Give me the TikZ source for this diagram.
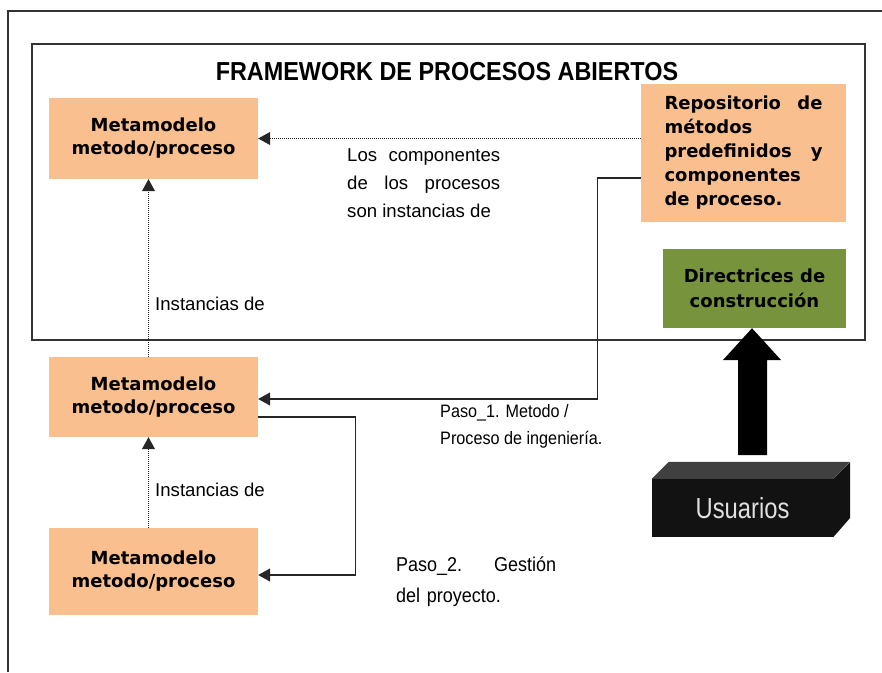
\documentclass[tikz,border=0pt]{standalone}
\usepackage{fontspec}
\setmainfont{Liberation Sans}
\newfontfamily\boxfont{DejaVu Sans}
\newfontfamily\narrowfont[FakeStretch=0.9]{Liberation Sans}
\newfontfamily\usrfont[FakeStretch=0.82]{Liberation Sans}
\newfontfamily\titlefont[FakeStretch=0.9]{Liberation Sans}
\usetikzlibrary{arrows.meta,calc}
\definecolor{orangec}{HTML}{F9BF8F}
\definecolor{greenc}{HTML}{77933C}
\definecolor{framec}{HTML}{333333}
\begin{document}
\begin{tikzpicture}[x=1pt,y=-1pt,
  orangebox/.style={fill=orangec, inner sep=0pt, align=center,
    font=\boxfont\bfseries\fontsize{18}{23}\selectfont},
  greenbox/.style={fill=greenc, inner sep=0pt, align=center,
    font=\boxfont\bfseries\fontsize{18}{25}\selectfont},
  label/.style={inner sep=0pt, align=left, font=\fontsize{18.6}{28}\selectfont},
  dotarrow/.style={line width=1pt, dash pattern=on 1pt off 1pt, draw=black!85,
    -{Triangle[length=12pt,width=13pt]}},
  solidarrow/.style={line width=1.2pt, draw=black!85,
    -{Triangle[length=12pt,width=13pt]}},
  frameline/.style={line width=1.5pt, draw=framec}]
\useasboundingbox (0,0) rectangle (882,672);
% frames
\draw[frameline] (8,672) -- (8,11) -- (882,11);
\draw[frameline] (32,44) rectangle (865,340);
\node[inner sep=0pt, font=\titlefont\bfseries\fontsize{26}{28}\selectfont] (title) at (447,72) {FRAMEWORK DE PROCESOS ABIERTOS};
% boxes
\node[orangebox, minimum width=209pt, minimum height=81pt] (b1) at (153.5,138.5) {Metamodelo\\metodo/proceso};
\node[orangebox, minimum width=209pt, minimum height=80pt] (b2) at (153.5,397) {Metamodelo\\metodo/proceso};
\node[orangebox, minimum width=209pt, minimum height=87pt] (b3) at (153.5,571.5) {Metamodelo\\metodo/proceso};
\node[orangebox, minimum width=205pt, minimum height=138pt, text width=158pt, align=left,
  font=\boxfont\bfseries\fontsize{18}{24}\selectfont] (repo) at (743.5,153)
  {Repositorio\hfill de\\métodos\\predefinidos\hfill y\\componentes\\de proceso.};
\node[greenbox, minimum width=183pt, minimum height=79pt] (dir) at (754.5,288.5) {Directrices de\\construcción};
% usuarios 3D box
\node[fill=black!93, inner sep=0pt, minimum width=181pt, minimum height=58pt,
  text=black!12, font=\usrfont\fontsize{29}{32}\selectfont] (usu) at (742.5,508) {Usuarios};
\fill[black!75] (usu.north west) -- ++(17,-17) -- ++(181,0) -- (usu.north east) -- cycle;
\fill[black!93] (usu.north east) -- ++(17,-17) -- ++(0,56) -- (usu.south east) -- cycle;
% big arrow (from Usuarios up to Directrices)
\fill[black] (738,455) -- (738,360) -- (723,360) -- ([xshift=-2.5pt]dir.south)
  -- (781,360) -- (767,360) -- (767,455) -- cycle;
% connectors
\draw[dotarrow] (repo.west |- b1.east) -- (b1.east);
\draw[dotarrow] ([xshift=-5pt]b2.north) -- ([xshift=-5pt]b1.south);
\draw[dotarrow] ([xshift=-5pt]b3.north) -- ([xshift=-5pt]b2.south);
\draw[solidarrow] ([yshift=-25pt]repo.west) -- ++(-43,0) |- ([yshift=-2pt]b2.east);
\draw[solidarrow] ([yshift=-20pt]b2.east) -- ++(97,0) |- ([yshift=-3.5pt]b3.east);
% labels
\node[label, anchor=north west] (lc) at (347,148)
  {\makebox[153pt][s]{Los componentes}\\\makebox[153pt][s]{de los procesos}\\son instancias de};
\node[label, anchor=west] (i1) at (155,304) {Instancias de};
\node[label, anchor=west] (i2) at (155,490) {Instancias de};
\node[inner sep=0pt, align=left, anchor=west, font=\narrowfont\fontsize{18}{27}\selectfont] (p1) at (440,426.5)
  {Paso\_1. Metodo /\\Proceso de ingeniería.};
\node[inner sep=0pt, text width=160pt, align=left, anchor=west, font=\narrowfont\fontsize{20}{31}\selectfont] (p2) at (396,581.5)
  {Paso\_2.\hfill Gestión\\del proyecto.};
\end{tikzpicture}
\end{document}
